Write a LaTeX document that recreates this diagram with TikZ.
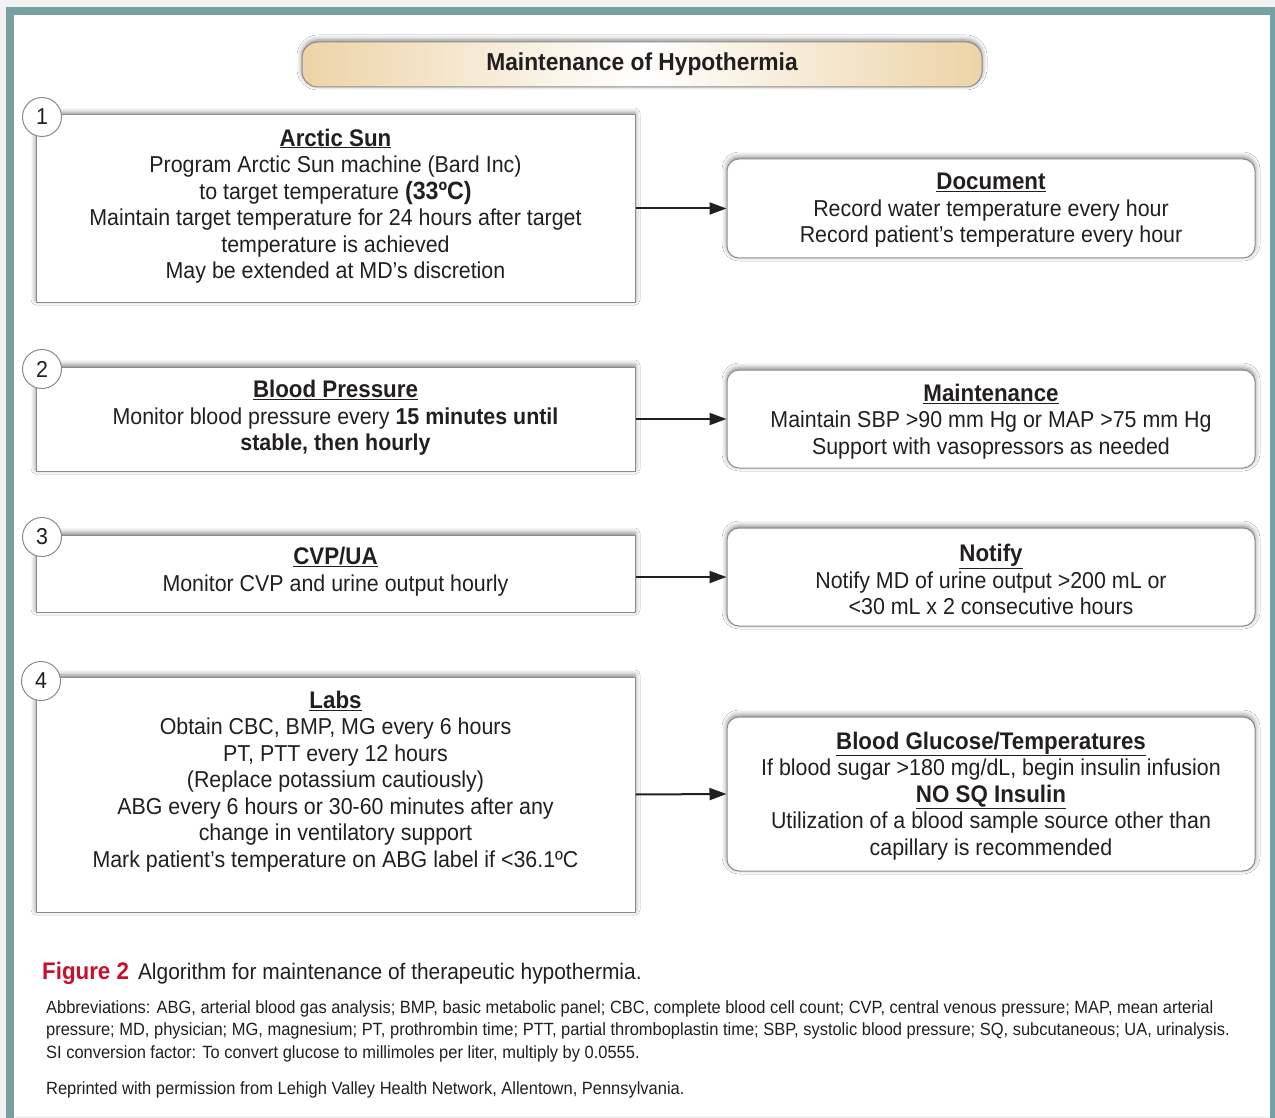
\documentclass[tikz,border=0pt]{standalone}
\usepackage{fontspec}
\setmainfont[FakeStretch=0.93]{Liberation Sans}
\usepackage{xcolor}
\usepackage{tikz}
\usetikzlibrary{arrows.meta,shadows.blur}

\definecolor{frameteal}{HTML}{76A0A2}
\definecolor{bannertan}{HTML}{EDD3A6}
\definecolor{boxgray}{HTML}{8C8C8C}
\definecolor{inkgray}{HTML}{231F20}
\definecolor{figred}{HTML}{C8102E}

\newcommand{\stephead}[1]{\underline{\textbf{\fontsize{24}{26.5}\selectfont #1}}}

\begin{document}
\begin{tikzpicture}[x=1pt,y=1pt,yscale=-1,xscale=1,
  softshadow/.style={blur shadow={shadow xshift=0pt,shadow yshift=2pt,shadow blur radius=5pt,shadow opacity=50}},
  stepbox/.style={draw=boxgray,line width=1pt,fill=white,softshadow,minimum width=599pt,inner sep=0pt},
  notebox/.style={draw=boxgray,line width=1pt,fill=white,rounded corners=12pt,softshadow,minimum width=528pt,inner sep=0pt},
  banner/.style={draw=boxgray,line width=1pt,rounded corners=16pt,minimum width=680pt,minimum height=45pt,
    left color=bannertan,right color=bannertan,middle color=white,softshadow,text=inkgray,
    font=\bfseries\fontsize{24.5}{28}\selectfont},
  numcircle/.style={circle,draw=boxgray,line width=1pt,fill=white,minimum size=39pt,inner sep=0pt,
    text=inkgray,font=\fontsize{23}{26}\selectfont},
  boxtext/.style={align=center,inner sep=0pt,text=inkgray,font=\fontsize{23}{26.5}\selectfont},
  flowarrow/.style={line width=2pt,draw=inkgray,-{Triangle[length=17pt,width=12pt]}},
  notetext/.style={anchor=base west,align=left,inner sep=0pt,text=inkgray,font=\fontsize{17.7}{22.5}\selectfont}
]

\useasboundingbox (0,0) rectangle (1275,1118);
\fill[gray!10] (0,0) rectangle (1275,1118);
\fill[white] (10,11) rectangle (1274,1116);
\draw[line width=8pt,frameteal] (10,1130) -- (10,11) -- (1274,11) -- (1274,1130);

\node[banner] (title) at (642,64.5) {Maintenance of Hypothermia};

\node[stepbox,minimum height=187pt] (arctic) at (335.5,208.5) {};
\node[stepbox,minimum height=104pt] (bp) at (335.5,419) {};
\node[stepbox,minimum height=77pt] (cvp) at (335.5,573.5) {};
\node[stepbox,minimum height=235pt] (labs) at (335.5,794.5) {};

\node[notebox,minimum height=99pt] (doc) at (991,208.5) {};
\node[notebox,minimum height=98pt] (maint) at (991,419) {};
\node[notebox,minimum height=98pt] (notify) at (991,577) {};
\node[notebox,minimum height=154pt] (glucose) at (991,794) {};

\node[numcircle] (n1) at (42,117) {1};
\node[numcircle] (n2) at (42,369) {2};
\node[numcircle] (n3) at (42,537) {3};
\node[numcircle] (n4) at (41,681) {4};

\node[boxtext] (arctic-t) at (335.5,206) {\stephead{Arctic Sun}\\
  Program Arctic Sun machine (Bard Inc)\\
  to target temperature \textbf{\fontsize{25}{26.5}\selectfont (33ºC)}\\
  Maintain target temperature for 24 hours after target\\
  temperature is achieved\\
  May be extended at MD’s discretion};
\node[boxtext] (bp-t) at (335.5,418) {\stephead{Blood Pressure}\\
  Monitor blood pressure every \textbf{15 minutes until}\\
  \textbf{stable, then hourly}};
\node[boxtext] (cvp-t) at (335.5,571.5) {\stephead{CVP/UA}\\
  Monitor CVP and urine output hourly};
\node[boxtext] (labs-t) at (335.5,781.5) {\stephead{Labs}\\
  Obtain CBC, BMP, MG every 6 hours\\
  PT, PTT every 12 hours\\
  (Replace potassium cautiously)\\
  ABG every 6 hours or 30-60 minutes after any\\
  change in ventilatory support\\
  Mark patient’s temperature on ABG label if <36.1ºC};

\node[boxtext] (doc-t) at (991,210.5) {\stephead{Document}\\
  Record water temperature every hour\\
  Record patient’s temperature every hour};
\node[boxtext] (maint-t) at (991,421.5) {\stephead{Maintenance}\\
  Maintain SBP >90 mm Hg or MAP >75 mm Hg\\
  Support with vasopressors as needed};
\node[boxtext] (notify-t) at (991,579.5) {\stephead{Notify}\\
  Notify MD of urine output >200 mL or\\
  <30 mL x 2 consecutive hours};
\node[boxtext] (glucose-t) at (991,796) {\stephead{Blood Glucose/Temperatures}\\
  If blood sugar >180 mg/dL, begin insulin infusion\\
  \stephead{NO SQ Insulin}\\
  Utilization of a blood sample source other than\\
  capillary is recommended};

\draw[flowarrow] (arctic.east) -- (doc.west);
\draw[flowarrow] (bp.east) -- (maint.west);
\draw[flowarrow] (cvp.east |- notify.west) -- (notify.west);
\draw[flowarrow] (labs.east) -- (glucose.west);

\node[anchor=base west,inner sep=0pt,text=inkgray,font=\fontsize{22.5}{26}\selectfont] (caption) at (42,979)
  {\textcolor{figred}{\textbf{\fontsize{24}{26}\selectfont Figure 2}}\hspace{9pt}Algorithm for maintenance of therapeutic hypothermia.};
\node[notetext] (abbrev) at (46,1058) {Abbreviations: ABG, arterial blood gas analysis; BMP, basic metabolic panel; CBC, complete blood cell count; CVP, central venous pressure; MAP, mean arterial\\
  pressure; MD, physician; MG, magnesium; PT, prothrombin time; PTT, partial thromboplastin time; SBP, systolic blood pressure; SQ, subcutaneous; UA, urinalysis.\\
  SI conversion factor: To convert glucose to millimoles per liter, multiply by 0.0555.};
\node[notetext] (reprint) at (46,1094) {Reprinted with permission from Lehigh Valley Health Network, Allentown, Pennsylvania.};
\end{tikzpicture}
\end{document}
